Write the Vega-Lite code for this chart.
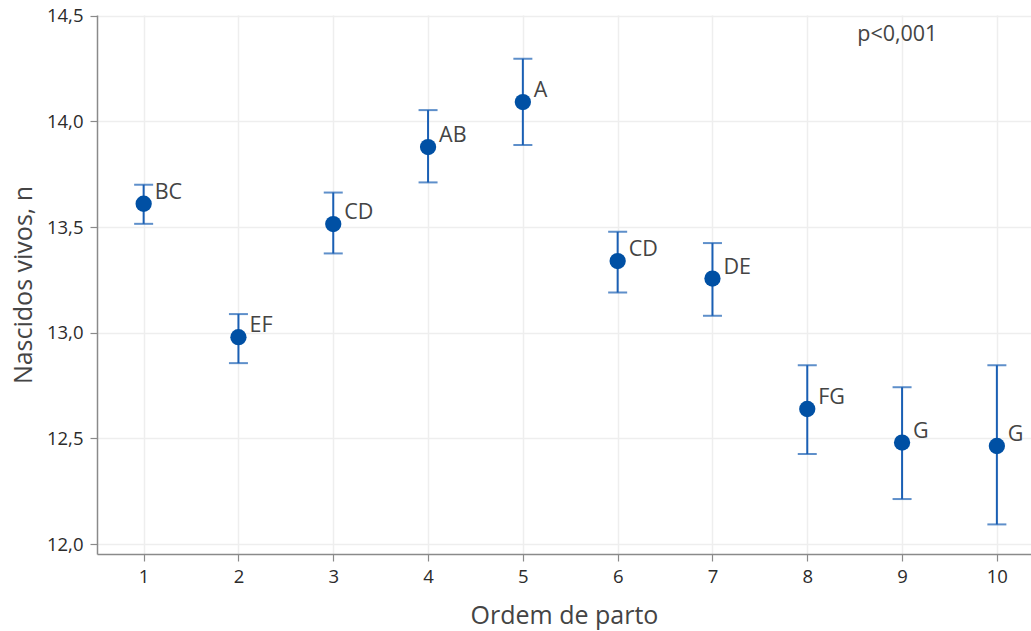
{
  "$schema": "https://vega.github.io/schema/vega-lite/v6.json",
  "autosize": "none",
  "width": 934,
  "height": 539,
  "padding": {"left": 97, "top": 15, "right": 0, "bottom": 77},
  "background": "white",
  "config": {
    "view": {"stroke": null},
    "font": "Open Sans",
    "axis": {
      "labelFont": "Open Sans",
      "titleFont": "Open Sans",
      "labelFontSize": 18.5,
      "labelColor": "#2b2b2b",
      "titleFontSize": 25,
      "titleFontWeight": "normal",
      "titleColor": "#444444",
      "domainColor": "#8a8a8a",
      "domainWidth": 1.5,
      "tickColor": "#8a8a8a",
      "tickSize": 7,
      "tickWidth": 1.2,
      "gridColor": "#eeeeee",
      "gridWidth": 1.5
    }
  },
  "data": {
    "values": [
      {"ordem": 1, "media": 13.61, "inf": 13.515, "sup": 13.70, "grupo": "BC"},
      {"ordem": 2, "media": 12.979, "inf": 12.856, "sup": 13.088, "grupo": "EF"},
      {"ordem": 3, "media": 13.514, "inf": 13.375, "sup": 13.663, "grupo": "CD"},
      {"ordem": 4, "media": 13.878, "inf": 13.711, "sup": 14.053, "grupo": "AB"},
      {"ordem": 5, "media": 14.091, "inf": 13.888, "sup": 14.296, "grupo": "A"},
      {"ordem": 6, "media": 13.339, "inf": 13.19, "sup": 13.477, "grupo": "CD"},
      {"ordem": 7, "media": 13.256, "inf": 13.08, "sup": 13.424, "grupo": "DE"},
      {"ordem": 8, "media": 12.639, "inf": 12.426, "sup": 12.846, "grupo": "FG"},
      {"ordem": 9, "media": 12.48, "inf": 12.213, "sup": 12.742, "grupo": "G"},
      {"ordem": 10, "media": 12.464, "inf": 12.093, "sup": 12.846, "grupo": "G"}
    ]
  },
  "encoding": {
    "x": {
      "field": "ordem",
      "type": "quantitative",
      "scale": {"domain": [0.508, 10.36], "nice": false, "zero": false},
      "axis": {
        "title": "Ordem de parto",
        "values": [1, 2, 3, 4, 5, 6, 7, 8, 9, 10],
        "format": "d",
        "labelPadding": 6,
        "titleY": 61,
        "titleBaseline": "middle"
      }
    }
  },
  "layer": [
    {
      "mark": {"type": "rule", "color": "#1a5fb4", "strokeWidth": 2},
      "encoding": {
        "y": {
          "field": "inf",
          "type": "quantitative",
          "scale": {"domain": [11.953, 14.503], "nice": false, "zero": false},
          "axis": {
            "title": "Nascidos vivos, n",
            "values": [12, 12.5, 13, 13.5, 14, 14.5],
            "labelExpr": "replace(format(datum.value, '.1f'), '.', ',')",
            "labelPadding": 7,
            "titleX": -74,
            "titleY": 269.5,
            "titleBaseline": "middle"
          }
        },
        "y2": {"field": "sup"}
      }
    },
    {
      "mark": {"type": "tick", "color": "#1a5fb4", "orient": "horizontal", "size": 19, "thickness": 2},
      "encoding": {"y": {"field": "inf", "type": "quantitative"}}
    },
    {
      "mark": {"type": "tick", "color": "#1a5fb4", "orient": "horizontal", "size": 19, "thickness": 2},
      "encoding": {"y": {"field": "sup", "type": "quantitative"}}
    },
    {
      "mark": {"type": "point", "filled": true, "shape": "circle", "size": 265, "color": "#0050a4", "opacity": 1},
      "encoding": {"y": {"field": "media", "type": "quantitative"}}
    },
    {
      "mark": {"type": "text", "align": "left", "baseline": "middle", "dx": 11, "dy": -11, "fontSize": 21.5, "color": "#444444", "font": "Open Sans"},
      "encoding": {
        "y": {"field": "media", "type": "quantitative"},
        "text": {"field": "grupo"}
      }
    },
    {
      "data": {"values": [{"ordem": 8.95, "valor": 14.41, "rotulo": "p<0,001"}]},
      "mark": {"type": "text", "align": "center", "baseline": "middle", "fontSize": 21.5, "color": "#444444", "font": "Open Sans"},
      "encoding": {
        "y": {"field": "valor", "type": "quantitative"},
        "text": {"field": "rotulo"}
      }
    }
  ]
}
